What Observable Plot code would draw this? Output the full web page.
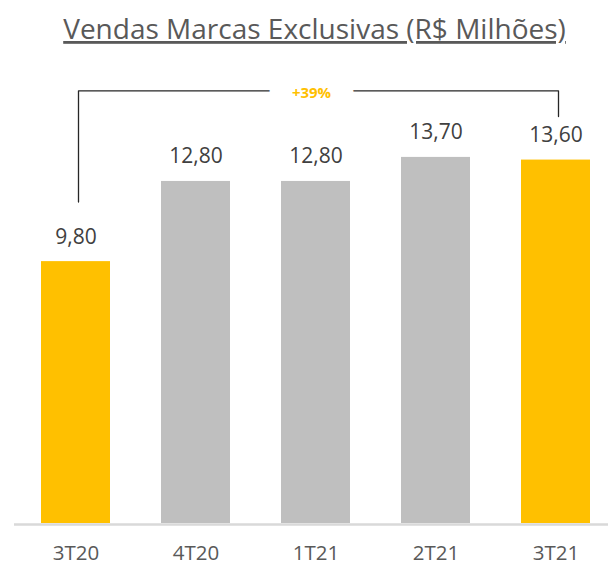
<!DOCTYPE html>
<html>
<head>
<meta charset="utf-8">
<script src="https://cdn.jsdelivr.net/npm/d3@7"></script>
<script src="https://cdn.jsdelivr.net/npm/@observablehq/plot@0.6"></script>
<style>
  html, body { margin: 0; padding: 0; background: #fff; }
</style>
</head>
<body>
<div id="chart"></div>
<script>
const title = "Vendas Marcas Exclusivas (R$ Milhões)";
const categories = ["3T20", "4T20", "1T21", "2T21", "3T21"];
const values = [9.8, 12.8, 12.8, 13.7, 13.6];
const valueLabels = ["9,80", "12,80", "12,80", "13,70", "13,60"];
const highlighted = [true, false, false, false, true];
const growthLabel = "+39%";
const growthAt = "1T21";
const bracketX = ["3T20", "3T20", "3T21", "3T21"];
const bracketY = [12.03, 16.19, 16.19, 15.23];

const bars = categories.map((c, i) => ({cat: c, value: values[i], label: valueLabels[i], hl: highlighted[i]}));
const bracket = bracketX.map((x, i) => ({x, y: bracketY[i]}));

const plot = Plot.plot({
  width: 608,
  height: 565,
  marginTop: 42,
  marginBottom: 42,
  marginLeft: 14,
  marginRight: 0,
  style: {fontFamily: "'Open Sans', sans-serif", background: "#fff"},
  x: {domain: categories, range: [-11.25, 641.25], padding: 0.4262, axis: null},
  y: {domain: [0, 18], axis: null},
  color: {domain: [true, false], range: ["#FFC000", "#BFBFBF"]},
  marks: [
    Plot.ruleY([0], {stroke: "#D9D9D9", strokeWidth: 2.5, dy: 1}),
    Plot.barY(bars, {x: "cat", y: "value", fill: "hl"}),
    Plot.text(bars, {x: "cat", y: "value", text: "label", dy: -18, lineAnchor: "bottom", fontSize: 21, fill: "#404040"}),
    Plot.text(bars, {x: "cat", y: 0, text: "cat", dy: 36, lineAnchor: "bottom", fontSize: 20.5, fill: "#595959"}),
    Plot.line(bracket, {x: "x", y: "y", stroke: "#262626", strokeWidth: 1.3, dx: 2.5}),
    Plot.text([growthLabel], {x: () => growthAt, y: () => bracketY[1], text: d => d, dx: -4.5, dy: 7.5, lineAnchor: "bottom", fontSize: 15, fontWeight: "bold", fill: "#FFC000", stroke: "white", strokeWidth: 46}),
    Plot.text([title], {frameAnchor: "top", text: d => d, dx: 3, dy: -3.5, lineAnchor: "bottom", fontSize: 28, fill: "#595959"})
  ]
});

plot.querySelectorAll("text").forEach(t => {
  if (t.textContent === title) t.style.textDecoration = "underline";
});

document.getElementById("chart").appendChild(plot);
</script>
</body>
</html>
